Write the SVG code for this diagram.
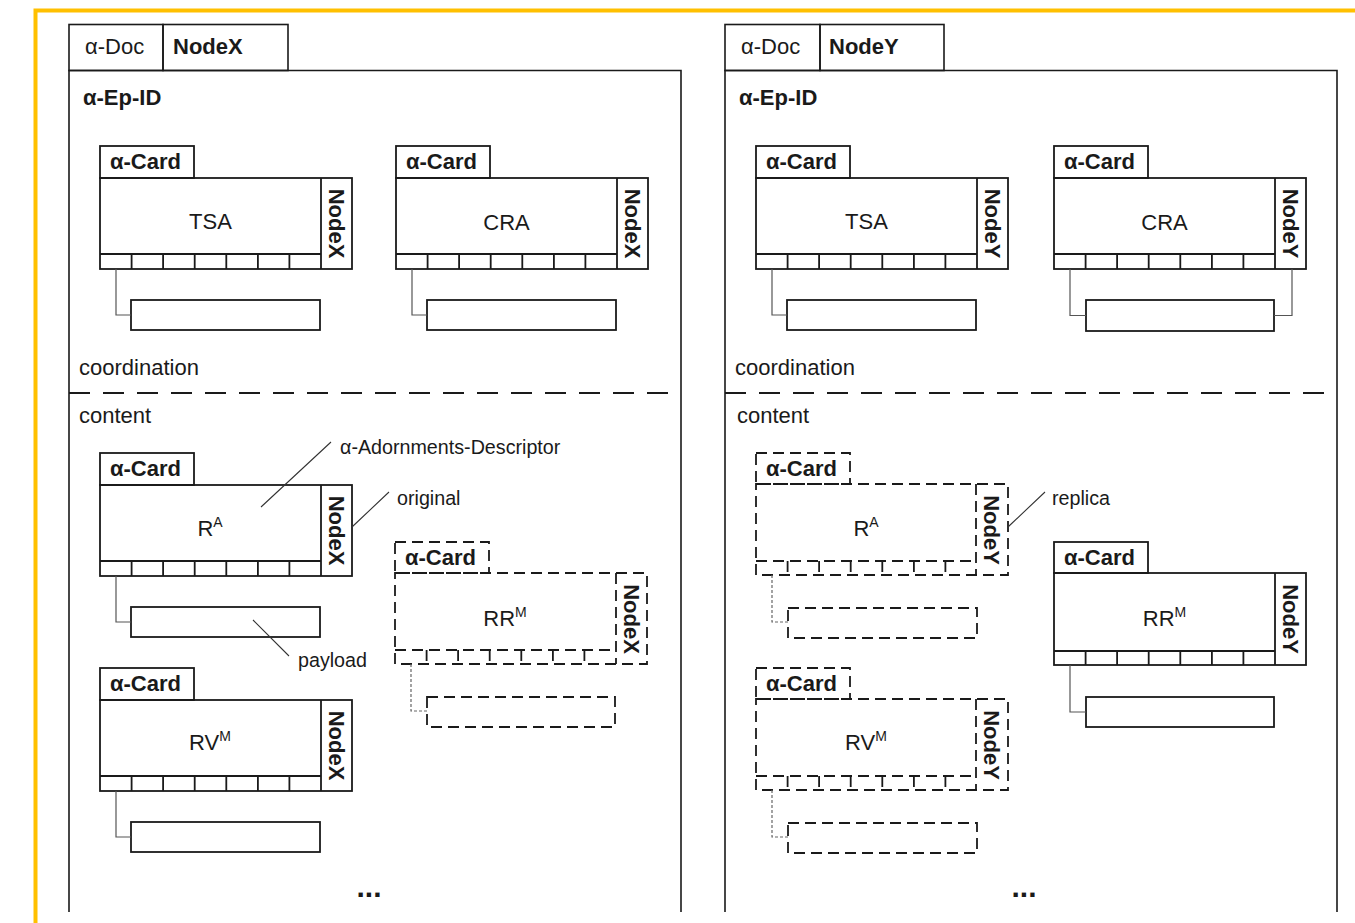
<svg xmlns="http://www.w3.org/2000/svg" width="1355" height="923" viewBox="0 0 1355 923">
<style>
text{font-family:"Liberation Sans",Arial,sans-serif;fill:#1a1a1a}
.t21{font-size:22px}
.b21{font-size:22px;font-weight:bold}
.ann{font-size:19.7px}
.mid{text-anchor:middle}
.frame{fill:none;stroke:#1a1a1a;stroke-width:1.6}
.box{fill:none;stroke:#1a1a1a;stroke-width:1.8}
.dbox{fill:none;stroke:#1a1a1a;stroke-width:1.8;stroke-dasharray:11 6}
.conn{fill:none;stroke:#555;stroke-width:1.2}
.dconn{fill:none;stroke:#666;stroke-width:1.2;stroke-dasharray:3 2}
.sep{fill:none;stroke:#1a1a1a;stroke-width:1.8;stroke-dasharray:21 13}
.lead{fill:none;stroke:#333;stroke-width:1.1}
.dots{font-size:30px;font-weight:bold;text-anchor:middle}
</style>
<rect width="1355" height="923" fill="#fff"/>
<path d="M35.5 923 V10.5 H1355" fill="none" stroke="#FFC000" stroke-width="4"/>

<g id="docX">
<path class="frame" d="M69 912 V70.5 H681 V912"/>
<rect class="frame" x="69" y="24.5" width="94" height="46"/>
<rect class="frame" x="163" y="24.5" width="125" height="46"/>
<text class="t21" x="85" y="54">α-Doc</text>
<text class="b21" x="173" y="54">NodeX</text>
<text class="b21" x="83" y="105">α-Ep-ID</text>
<text class="t21" x="79" y="375">coordination</text>
<text class="t21" x="79" y="423">content</text>
<text class="dots" x="369" y="897">...</text>
</g>

<g id="docY">
<path class="frame" d="M725 912 V70.5 H1337 V912"/>
<rect class="frame" x="725" y="24.5" width="95" height="46"/>
<rect class="frame" x="820" y="24.5" width="124" height="46"/>
<text class="t21" x="741" y="54">α-Doc</text>
<text class="b21" x="829" y="54">NodeY</text>
<text class="b21" x="739" y="105">α-Ep-ID</text>
<text class="t21" x="735" y="375">coordination</text>
<text class="t21" x="737" y="423">content</text>
<text class="dots" x="1024" y="897">...</text>
</g>

<!-- left cards -->
<g id="X-TSA">
<rect class="box" x="100" y="146" width="94" height="32"/>
<rect class="box" x="100" y="178" width="252" height="91"/>
<path class="box" d="M321 178 V269 M100 254 H321 M131.6 254 V269 M163.1 254 V269 M194.7 254 V269 M226.3 254 V269 M257.9 254 V269 M289.4 254 V269"/>
<rect class="box" x="131" y="300" width="189" height="30"/>
<text class="b21" x="110" y="169">α-Card</text>
<text class="t21 mid" x="210.5" y="229">TSA</text>
<text class="b21 mid" transform="translate(336.5 223.5) rotate(90)" y="8">NodeX</text>
</g>
<g id="X-CRA">
<rect class="box" x="396" y="146" width="94" height="32"/>
<rect class="box" x="396" y="178" width="252" height="91"/>
<path class="box" d="M617 178 V269 M396 254 H617 M427.6 254 V269 M459.1 254 V269 M490.7 254 V269 M522.3 254 V269 M553.9 254 V269 M585.4 254 V269"/>
<rect class="box" x="427" y="300" width="189" height="30"/>
<text class="b21" x="406" y="169">α-Card</text>
<text class="t21 mid" x="506.5" y="230">CRA</text>
<text class="b21 mid" transform="translate(632.5 223.5) rotate(90)" y="8">NodeX</text>
</g>
<g id="X-RA">
<rect class="box" x="100" y="453" width="94" height="32"/>
<rect class="box" x="100" y="485" width="252" height="91"/>
<path class="box" d="M321 485 V576 M100 561 H321 M131.6 561 V576 M163.1 561 V576 M194.7 561 V576 M226.3 561 V576 M257.9 561 V576 M289.4 561 V576"/>
<rect class="box" x="131" y="607" width="189" height="30"/>
<text class="b21" x="110" y="476">α-Card</text>
<text class="t21 mid" x="210" y="536">R<tspan font-size="14" dy="-9">A</tspan></text>
<text class="b21 mid" transform="translate(336.5 530.5) rotate(90)" y="8">NodeX</text>
</g>
<g id="X-RV">
<rect class="box" x="100" y="668" width="94" height="32"/>
<rect class="box" x="100" y="700" width="252" height="91"/>
<path class="box" d="M321 700 V791 M100 776 H321 M131.6 776 V791 M163.1 776 V791 M194.7 776 V791 M226.3 776 V791 M257.9 776 V791 M289.4 776 V791"/>
<rect class="box" x="131" y="822" width="189" height="30"/>
<text class="b21" x="110" y="691">α-Card</text>
<text class="t21 mid" x="210" y="750">RV<tspan font-size="14" dy="-9">M</tspan></text>
<text class="b21 mid" transform="translate(336.5 745.5) rotate(90)" y="8">NodeX</text>
</g>
<g id="X-RRM">
<rect class="dbox" x="395" y="542" width="94" height="31"/>
<rect class="dbox" x="395" y="573" width="252" height="91"/>
<path class="dbox" d="M616 573 V664 M395 650 H616 M426.6 650 V664 M458.1 650 V664 M489.7 650 V664 M521.3 650 V664 M552.9 650 V664 M584.4 650 V664"/>
<rect class="dbox" x="427" y="697" width="188" height="30"/>
<text class="b21" x="405" y="565">α-Card</text>
<text class="t21 mid" x="505" y="626">RR<tspan font-size="14" dy="-9">M</tspan></text>
<text class="b21 mid" transform="translate(631.5 619) rotate(90)" y="8">NodeX</text>
</g>

<!-- right cards -->
<g id="Y-TSA">
<rect class="box" x="756" y="146" width="94" height="32"/>
<rect class="box" x="756" y="178" width="252" height="91"/>
<path class="box" d="M977 178 V269 M756 254 H977 M787.6 254 V269 M819.1 254 V269 M850.7 254 V269 M882.3 254 V269 M913.9 254 V269 M945.4 254 V269"/>
<rect class="box" x="787" y="300" width="189" height="30"/>
<text class="b21" x="766" y="169">α-Card</text>
<text class="t21 mid" x="866.5" y="229">TSA</text>
<text class="b21 mid" transform="translate(992.5 223.5) rotate(90)" y="8">NodeY</text>
</g>
<g id="Y-CRA">
<rect class="box" x="1054" y="146" width="94" height="32"/>
<rect class="box" x="1054" y="178" width="252" height="91"/>
<path class="box" d="M1275 178 V269 M1054 254 H1275 M1085.6 254 V269 M1117.1 254 V269 M1148.7 254 V269 M1180.3 254 V269 M1211.9 254 V269 M1243.4 254 V269"/>
<rect class="box" x="1086" y="300" width="188" height="31"/>
<text class="b21" x="1064" y="169">α-Card</text>
<text class="t21 mid" x="1164.5" y="230">CRA</text>
<text class="b21 mid" transform="translate(1290.5 223.5) rotate(90)" y="8">NodeY</text>
</g>
<g id="Y-RA">
<rect class="dbox" x="756" y="453" width="94" height="31"/>
<rect class="dbox" x="756" y="484" width="252" height="91"/>
<path class="dbox" d="M976 484 V575 M756 561 H976 M787.6 561 V575 M819.1 561 V575 M850.7 561 V575 M882.3 561 V575 M913.9 561 V575 M945.4 561 V575"/>
<rect class="dbox" x="788" y="608" width="189" height="30"/>
<text class="b21" x="766" y="476">α-Card</text>
<text class="t21 mid" x="866" y="536">R<tspan font-size="14" dy="-9">A</tspan></text>
<text class="b21 mid" transform="translate(992 530) rotate(90)" y="8">NodeY</text>
</g>
<g id="Y-RV">
<rect class="dbox" x="756" y="668" width="94" height="31"/>
<rect class="dbox" x="756" y="699" width="252" height="91"/>
<path class="dbox" d="M976 699 V790 M756 776 H976 M787.6 776 V790 M819.1 776 V790 M850.7 776 V790 M882.3 776 V790 M913.9 776 V790 M945.4 776 V790"/>
<rect class="dbox" x="788" y="823" width="189" height="30"/>
<text class="b21" x="766" y="691">α-Card</text>
<text class="t21 mid" x="866" y="750">RV<tspan font-size="14" dy="-9">M</tspan></text>
<text class="b21 mid" transform="translate(992 745) rotate(90)" y="8">NodeY</text>
</g>
<g id="Y-RRM">
<rect class="box" x="1054" y="542" width="94" height="31"/>
<rect class="box" x="1054" y="573" width="252" height="92"/>
<path class="box" d="M1275 573 V665 M1054 651 H1275 M1085.6 651 V665 M1117.1 651 V665 M1148.7 651 V665 M1180.3 651 V665 M1211.9 651 V665 M1243.4 651 V665"/>
<rect class="box" x="1086" y="697" width="188" height="30"/>
<text class="b21" x="1064" y="565">α-Card</text>
<text class="t21 mid" x="1164.5" y="626">RR<tspan font-size="14" dy="-9">M</tspan></text>
<text class="b21 mid" transform="translate(1290.5 619) rotate(90)" y="8">NodeY</text>
</g>

<g id="connectors">
<path class="sep" d="M69 393 H681 M725 393 H1337"/>
<path class="conn" d="M116 269 V315 H131 M412 269 V315 H427 M116 576 V622 H131 M116 791 V837 H131"/>
<path class="conn" d="M772 269 V315 H787 M1070 269 V315.5 H1086 M1292 269 V315.5 H1274 M1070 665 V712 H1086"/>
<path class="dconn" d="M411 664 V711 H427 M772 575 V622 H788 M772 790 V837 H788"/>
<path class="lead" d="M261 507 L331 442 M352 527 L389 492 M253 620 L289 656 M1008 527 L1045 492"/>
</g>
<g id="labels">
<text class="ann" x="340" y="454">α-Adornments-Descriptor</text>
<text class="ann" x="397" y="505">original</text>
<text class="ann" x="298" y="667">payload</text>
<text class="ann" x="1052" y="505">replica</text>
</g>
</svg>
